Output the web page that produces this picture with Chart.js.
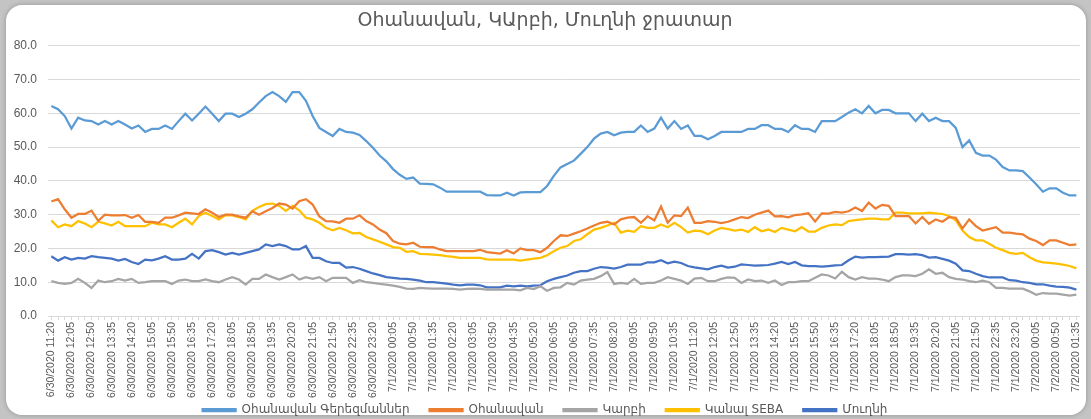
<!DOCTYPE html>
<html>
<head>
<meta charset="utf-8">
<script src="https://cdn.jsdelivr.net/npm/chart.js@4.4.0/dist/chart.umd.min.js"></script>
<style>
  html, body { margin: 0; padding: 0; width: 1091px; height: 419px; overflow: hidden; background: #c4c4c4; }
  .card { position: absolute; left: 6px; top: 5px; width: 1080px; height: 410px; background: #ffffff; border-radius: 16px; box-shadow: 0 0 5px rgba(0, 0, 0, 0.25); }
  .wrap { position: absolute; left: 0; top: 0; width: 1091px; height: 419px; }
</style>
</head>
<body>
<div class="card"></div>
<div class="wrap"><canvas id="waterChart" width="1091" height="419"></canvas></div>
<script>
// 15 minute readings, 6/30/2020 11:20 - 7/2/2020 01:35
const startTime = new Date(2020, 5, 30, 11, 20)
const pointCount = 154

const seriesNames = ["Օհանավան Գերեզմաններ", "Օհանավան", "Կարբի", "Կանալ SEBA", "Մուղնի"]

const gerezmanner = [
  62.2, 61.2, 59.2, 55.5, 58.7, 57.9, 57.7, 56.7, 57.7, 56.7,
  57.7, 56.7, 55.5, 56.4, 54.5, 55.4, 55.4, 56.4, 55.4, 57.7,
  59.9, 57.9, 59.9, 62.0, 59.9, 57.7, 59.9, 59.9, 58.9, 59.9,
  61.2, 63.2, 65.1, 66.3, 65.1, 63.4, 66.3, 66.3, 63.7, 59.2,
  55.7, 54.5, 53.3, 55.4, 54.5, 54.3, 53.6, 51.8, 49.8, 47.5,
  45.8, 43.5, 41.8, 40.6, 41.0, 39.2, 39.1, 39.0, 38.0, 36.8,
  36.8, 36.8, 36.8, 36.8, 36.8, 35.8, 35.7, 35.7, 36.5, 35.7,
  36.6, 36.7, 36.7, 36.7, 38.5, 41.5, 44.0, 45.0, 46.0, 48.0,
  50.0, 52.5, 54.0, 54.5, 53.5, 54.3, 54.5, 54.5, 56.4, 54.5,
  55.5, 58.7, 55.5, 57.7, 55.4, 56.4, 53.3, 53.3, 52.3, 53.3,
  54.5, 54.5, 54.5, 54.5, 55.4, 55.4, 56.5, 56.5, 55.4, 55.4,
  54.5, 56.5, 55.4, 55.4, 54.5, 57.7, 57.7, 57.7, 58.9, 60.2,
  61.2, 60.0, 62.2, 60.0, 61.0, 61.0, 60.0, 60.0, 60.0, 57.7,
  59.9, 57.7, 58.7, 57.7, 57.7, 55.7, 50.0, 52.0, 48.3, 47.5,
  47.5, 46.3, 44.1, 43.1, 43.1, 42.9, 41.0, 39.0, 36.8, 37.8,
  37.8, 36.5, 35.7, 35.7
]

const ohanavan = [
  33.9, 34.6, 31.6, 29.1, 30.2, 30.2, 31.2, 28.2, 30.0, 29.8,
  29.8, 29.9, 29.1, 29.9, 27.9, 27.9, 27.6, 29.1, 29.1, 29.8,
  30.6, 30.4, 30.2, 31.6, 30.6, 29.3, 30.0, 30.0, 29.5, 29.1,
  31.0, 30.0, 31.0, 32.0, 33.3, 33.0, 31.8, 34.0, 34.6, 33.0,
  29.5, 28.1, 28.0, 27.6, 28.8, 28.8, 29.8, 28.1, 27.1, 25.6,
  24.5, 22.2, 21.4, 21.2, 21.7, 20.5, 20.4, 20.4, 19.7, 19.2,
  19.2, 19.2, 19.2, 19.2, 19.6, 18.9, 18.7, 18.5, 19.5, 18.5,
  20.0, 19.5, 19.5, 18.9, 20.2, 22.2, 23.9, 23.7, 24.4, 25.1,
  25.9, 26.8, 27.6, 27.9, 27.1, 28.6, 29.1, 29.3, 27.6, 29.5,
  28.3, 32.4, 27.6, 29.8, 29.6, 32.1, 27.6, 27.6, 28.1, 27.9,
  27.5, 27.9, 28.6, 29.3, 29.0, 30.0, 30.6, 31.2, 29.5, 29.6,
  29.2, 29.9, 30.1, 30.4, 28.0, 30.4, 30.3, 30.8, 30.6, 31.0,
  32.1, 31.1, 33.6, 31.8, 32.9, 32.6, 29.6, 29.6, 29.6, 27.4,
  29.3, 27.3, 28.6, 27.9, 29.3, 29.1, 25.9, 28.6, 26.6, 25.3,
  25.8, 26.3, 24.7, 24.7, 24.4, 24.2, 22.9, 22.2, 21.0, 22.4,
  22.4, 21.7, 21.0, 21.2
]

const karbi = [
  10.3, 9.8, 9.5, 9.8, 11.0, 9.8, 8.3, 10.5, 10.0, 10.3,
  11.0, 10.5, 11.0, 9.8, 10.0, 10.3, 10.3, 10.3, 9.5, 10.5,
  10.8, 10.3, 10.3, 10.8, 10.3, 10.0, 10.8, 11.5, 10.8, 9.3,
  11.0, 11.0, 12.3, 11.5, 10.8, 11.5, 12.3, 10.8, 11.5, 11.0,
  11.5, 10.3, 11.3, 11.3, 11.3, 9.8, 10.6, 10.0, 9.8, 9.5,
  9.3, 9.0, 8.6, 8.1, 8.0, 8.3, 8.2, 8.1, 8.1, 8.1,
  8.0, 7.8, 8.0, 8.1, 8.0, 7.8, 7.8, 7.8, 7.8, 7.8,
  7.6, 8.3, 8.0, 8.8, 7.5, 8.3, 8.5, 9.8, 9.3, 10.5,
  10.8, 11.0, 11.8, 13.0, 9.5, 9.8, 9.5, 11.0, 9.5, 9.8,
  9.8, 10.5, 11.5, 11.0, 10.5, 9.5, 11.1, 11.3, 10.3, 10.3,
  11.0, 11.4, 11.3, 9.8, 10.8, 10.3, 10.5, 9.8, 10.5, 9.2,
  10.0, 10.0, 10.3, 10.3, 11.3, 12.3, 12.0, 11.1, 13.1, 11.5,
  10.8, 11.5, 11.1, 11.1, 10.8, 10.3, 11.5, 12.0, 12.0, 11.8,
  12.5, 13.8, 12.5, 12.8, 11.5, 11.0, 10.8, 10.3, 10.0, 10.5,
  10.0, 8.3, 8.3, 8.1, 8.1, 8.1, 7.3, 6.3, 6.8, 6.6,
  6.6, 6.3, 6.0, 6.3
]

const kanalSeba = [
  28.3, 26.3, 27.1, 26.6, 28.1, 27.4, 26.3, 27.9, 27.4, 26.8,
  27.9, 26.6, 26.6, 26.6, 26.6, 27.6, 27.1, 27.1, 26.3, 27.6,
  28.8, 27.1, 29.6, 30.6, 29.6, 28.6, 29.9, 29.8, 29.3, 28.6,
  31.1, 32.3, 33.1, 33.3, 32.6, 31.1, 32.6, 31.3, 29.1, 28.6,
  27.6, 26.1, 25.4, 26.1, 25.4, 24.5, 24.6, 23.4, 22.7, 22.0,
  21.2, 20.4, 20.2, 19.0, 19.2, 18.4, 18.3, 18.2, 18.0, 17.7,
  17.5, 17.2, 17.2, 17.2, 17.2, 16.8, 16.7, 16.7, 16.7, 16.7,
  16.4, 16.7, 17.0, 17.2, 18.0, 19.2, 20.2, 20.7, 22.2, 22.7,
  24.2, 25.6, 26.1, 26.8, 27.6, 24.7, 25.3, 24.9, 26.6, 26.1,
  26.1, 27.1, 26.3, 27.6, 26.3, 24.7, 25.3, 25.1, 24.2, 25.3,
  26.1, 25.7, 25.3, 25.6, 24.9, 26.3, 25.1, 25.6, 24.9, 26.1,
  25.6, 25.1, 26.3, 25.0, 25.0, 26.1, 26.8, 27.1, 26.9, 28.1,
  28.4, 28.6, 28.8, 28.8, 28.6, 28.6, 30.6, 30.6, 30.4, 30.4,
  30.4, 30.6, 30.4, 30.2, 29.6, 28.3, 25.3, 23.4, 22.4, 22.4,
  21.4, 20.2, 19.5, 18.7, 18.4, 18.7, 17.4, 16.4, 15.9, 15.7,
  15.5, 15.2, 14.8, 14.1
]

const mughni = [
  17.7, 16.4, 17.4, 16.7, 17.2, 17.0, 17.7, 17.4, 17.2, 17.0,
  16.4, 16.9, 16.0, 15.4, 16.7, 16.5, 17.0, 17.7, 16.7, 16.7,
  17.0, 18.4, 17.0, 19.2, 19.5, 18.9, 18.2, 18.7, 18.2, 18.7,
  19.2, 19.7, 21.2, 20.7, 21.2, 20.7, 19.7, 19.7, 20.7, 17.2,
  17.2, 16.2, 15.7, 15.7, 14.3, 14.5, 14.0, 13.3, 12.6, 12.1,
  11.5, 11.3, 11.1, 11.0, 10.8, 10.5, 10.0, 10.0, 9.8, 9.6,
  9.3, 9.1, 9.3, 9.3, 9.1, 8.5, 8.5, 8.5, 9.0, 8.8,
  9.0, 8.8, 9.0, 9.1, 10.3, 11.0, 11.5, 12.0, 12.8, 13.3,
  13.3, 14.0, 14.5, 14.3, 14.0, 14.5, 15.2, 15.2, 15.2, 15.9,
  15.9, 16.5, 15.6, 16.1, 15.7, 14.8, 14.4, 14.1, 13.8, 14.5,
  14.9, 14.3, 14.6, 15.3, 15.1, 14.9, 15.0, 15.1, 15.5, 16.0,
  15.4, 16.0, 15.0, 14.8, 14.8, 14.6, 14.8, 15.0, 15.1, 16.5,
  17.6, 17.3, 17.4, 17.4, 17.5, 17.6, 18.3, 18.3, 18.2, 18.3,
  18.0, 17.3, 17.4, 16.9, 16.4, 15.5, 13.5, 13.3, 12.5, 11.8,
  11.4, 11.4, 11.4, 10.6, 10.5, 10.0, 9.8, 9.4, 9.4, 9.0,
  8.7, 8.6, 8.4, 7.8
]

const seriesColors = ["#5b9bd5", "#ed7d31", "#a5a5a5", "#ffc000", "#4472c4"]
const yTicks = [0, 10, 20, 30, 40, 50, 60, 70, 80]

// time labels like Excel: 6/30/2020 11:20
function pad(n) {
  return n < 10 ? "0" + n : "" + n
}

function buildLabels() {
  const labels = []
  for (let i = 0; i < pointCount; i++) {
    const d = new Date(startTime.getTime() + i * 15 * 60000)
    labels.push((d.getMonth() + 1) + "/" + d.getDate() + "/" + d.getFullYear() + " " + pad(d.getHours()) + ":" + pad(d.getMinutes()))
  }
  return labels
}

const timeLabels = buildLabels()
const allSeries = [gerezmanner, ohanavan, karbi, kanalSeba, mughni]

function makeDataset(idx) {
  return {
    label: seriesNames[idx],
    data: allSeries[idx],
    borderColor: seriesColors[idx],
    backgroundColor: seriesColors[idx],
    borderWidth: 2.25,
    pointRadius: 0,
    tension: 0,
    fill: false,
  }
}

const textColor = "#595959"
const gridColor = "#d9d9d9"

new Chart(document.getElementById("waterChart"), {
  type: "line",
  data: {
    labels: timeLabels,
    datasets: [0, 1, 2, 3, 4].map(makeDataset),
  },
  options: {
    responsive: false,
    animation: false,
    layout: {
      // legend box is taller than its text, let it hang below the canvas a bit
      padding: { left: 5, right: 6, top: 2, bottom: -7 },
    },
    plugins: {
      title: {
        display: true,
        text: "Օհանավան, ԿԱրբի, Մուղնի ջրատար",
        color: textColor,
        font: { family: "DejaVu Sans", size: 19, weight: "normal" },
        padding: { top: 8, bottom: 13 },
      },
      legend: {
        position: "bottom",
        labels: {
          boxWidth: 33,
          boxHeight: 2,
          padding: 20,
          color: textColor,
          font: { family: "DejaVu Sans", size: 12 },
        },
      },
      tooltip: { enabled: false },
    },
    scales: {
      x: {
        offset: true,
        grid: {
          drawOnChartArea: false,
          drawTicks: true,
          tickLength: 4,
          color: gridColor,
        },
        border: { color: gridColor },
        ticks: {
          autoSkip: false,
          minRotation: 90,
          maxRotation: 90,
          padding: 2,
          color: textColor,
          font: { family: "Liberation Sans", size: 10.5 },
          callback: (value, index) => (index % 3 === 0 ? timeLabels[index] : ""),
        },
        afterFit: (scale) => {
          scale.height = 68
          // labels run down into the legend area, don't clip them to the axis box
          scale._computeLabelArea = () => undefined
        },
      },
      y: {
        min: 0,
        max: 80,
        afterBuildTicks: (scale) => {
          scale.ticks = yTicks.map((v) => ({ value: v }))
        },
        grid: { color: gridColor, drawTicks: false },
        border: { display: false },
        ticks: {
          padding: 11,
          color: textColor,
          font: { family: "Liberation Sans", size: 12 },
          callback: (value) => Number(value).toFixed(1),
        },
        afterFit: (scale) => {
          scale.width = 43
        },
      },
    },
  },
})
</script>
</body>
</html>
